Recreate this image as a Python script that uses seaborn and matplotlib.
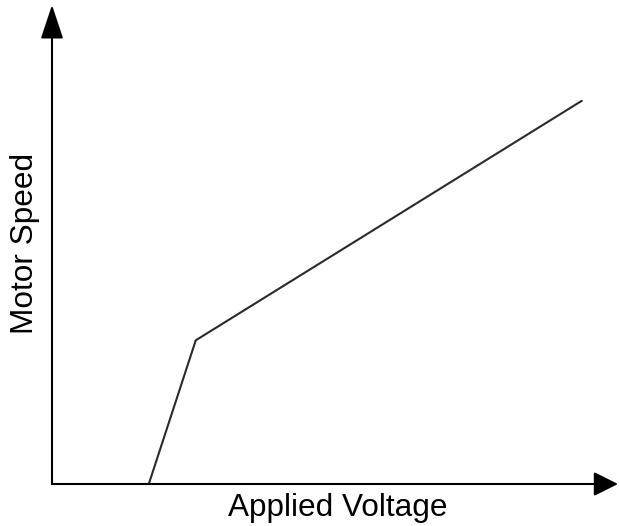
import matplotlib
matplotlib.use("Agg")
import matplotlib.pyplot as plt
import seaborn as sns
import pandas as pd

# data (arbitrary units)
voltage = [1.71, 2.54, 9.36]
speed = [0.0, 3.0, 8.0]
x_label = "Applied Voltage"
y_label = "Motor Speed"

sns.set_theme(style="white")
plt.rcParams['font.family'] = ['Liberation Sans', 'DejaVu Sans']

W, H = 619, 526
fig = plt.figure(figsize=(W / 100, H / 100), dpi=100)
left, right, top, bottom = 52, 618, 5, 484
ax = fig.add_axes([left / W, (H - bottom) / H, (right - left) / W, (bottom - top) / H])
ax.set_xlim(0, 10)
ax.set_ylim(0, 10)

df = pd.DataFrame({"voltage": voltage, "speed": speed})
sns.lineplot(data=df, x="voltage", y="speed", ax=ax, color="#2a2a2a", lw=1.5,
             sort=False, estimator=None)

for s in ax.spines.values():
    s.set_visible(False)
ax.set_xticks([])
ax.set_yticks([])
ax.set_xlabel("")
ax.set_ylabel("")

# axis arrows
ax.annotate("", xy=(1, 0), xytext=(0, 0), xycoords="axes fraction",
            arrowprops=dict(arrowstyle="-|>,head_length=15,head_width=7.5",
                            mutation_scale=1, lw=1.5, color="black",
                            shrinkA=0, shrinkB=0))
ax.annotate("", xy=(0, 1), xytext=(0, 0), xycoords="axes fraction",
            arrowprops=dict(arrowstyle="-|>,head_length=21,head_width=7",
                            mutation_scale=1, lw=1.5, color="black",
                            shrinkA=0, shrinkB=0))

fig.text(338 / W, 1 - 508 / H, x_label, ha="center", va="center", fontsize=22.7, color="black")
fig.text(25 / W, 1 - 243 / H, y_label, ha="center", va="center", rotation=90,
         fontsize=22.7, color="black")

fig.savefig("out.png", dpi=100, facecolor="white")
